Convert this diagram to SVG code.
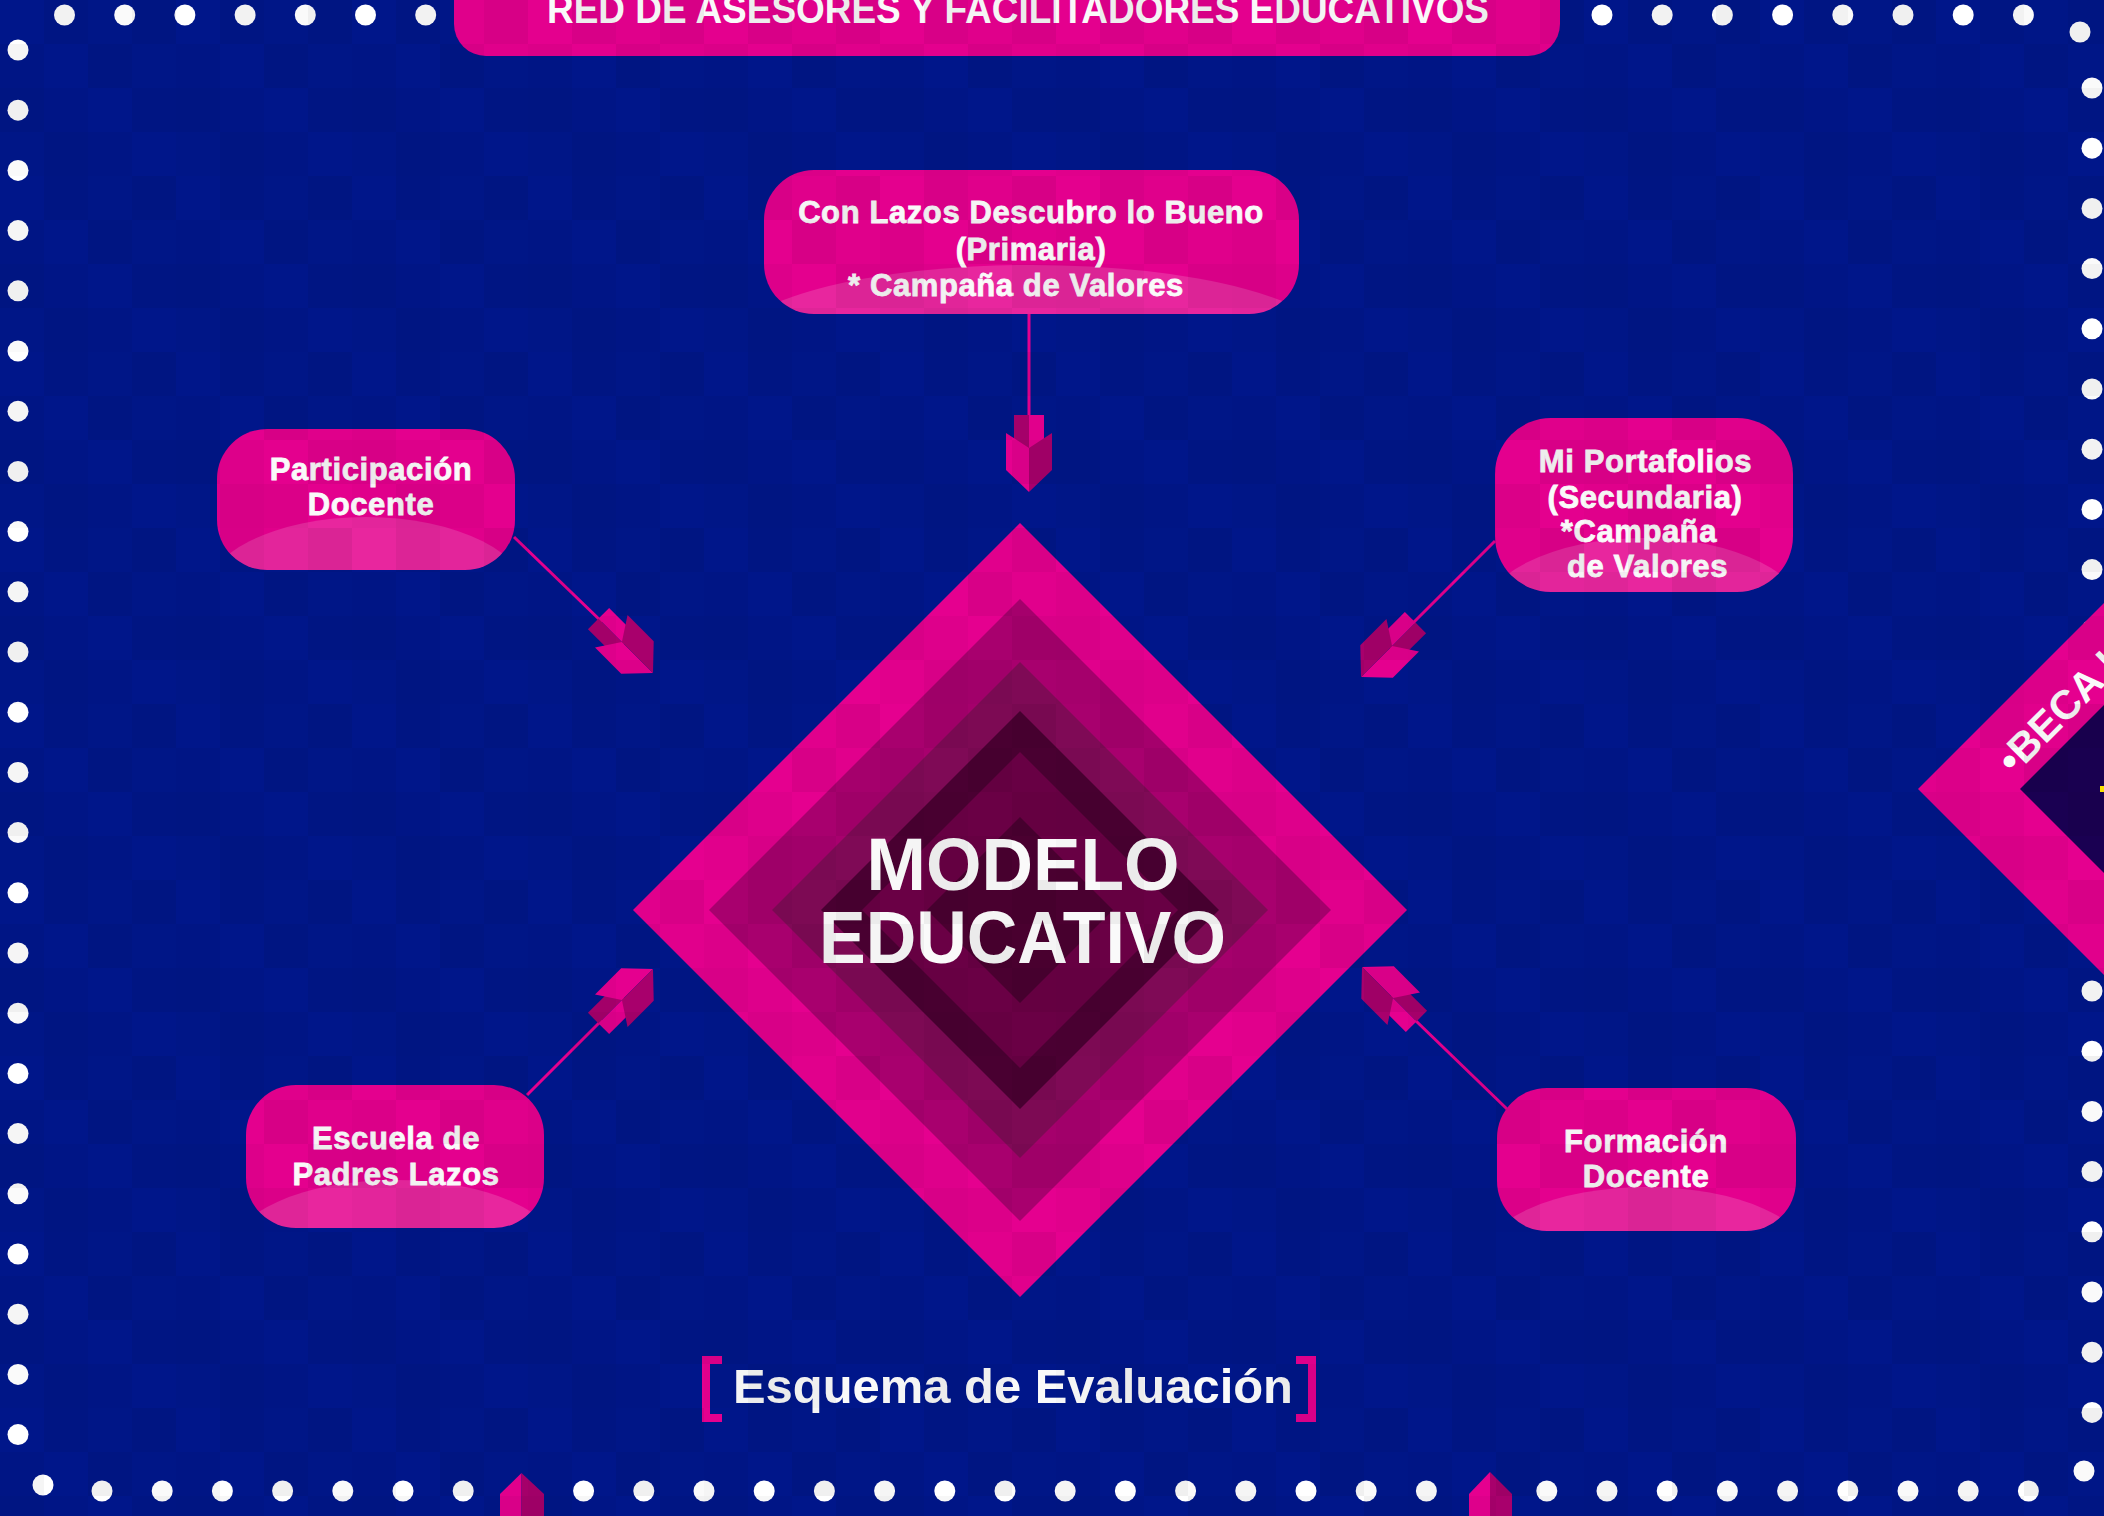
<svg xmlns="http://www.w3.org/2000/svg" width="2104" height="1516" viewBox="0 0 2104 1516">
<style>
.bg{fill:#00168A}
.d{fill:#FFFFFF}
.pill{fill:#E4008E}
.gloss{fill:#FFFFFF;fill-opacity:0.15}
.t{font-family:"Liberation Sans",Arial,Helvetica,sans-serif;font-weight:700;fill:#FAFAFA;text-anchor:middle}
.nt{font-size:31px;letter-spacing:0.6px;stroke:#FAFAFA;stroke-width:0.8px}
.link{stroke:#E5008F;stroke-width:3;fill:none}
.pk{fill:#E5008F}
.dk{fill:#A8006C}
</style>
<defs>
<pattern id="tex" width="176" height="176" patternUnits="userSpaceOnUse">
<rect x="44" y="0" width="44" height="44" fill="#000" fill-opacity="0.05"/>
<rect x="88" y="0" width="44" height="44" fill="#000" fill-opacity="0.02"/>
<rect x="132" y="0" width="44" height="44" fill="#000" fill-opacity="0.06"/>
<rect x="0" y="44" width="44" height="44" fill="#000" fill-opacity="0.04"/>
<rect x="88" y="44" width="44" height="44" fill="#000" fill-opacity="0.06"/>
<rect x="132" y="44" width="44" height="44" fill="#000" fill-opacity="0.02"/>
<rect x="0" y="88" width="44" height="44" fill="#000" fill-opacity="0.06"/>
<rect x="44" y="88" width="44" height="44" fill="#000" fill-opacity="0.03"/>
<rect x="132" y="88" width="44" height="44" fill="#000" fill-opacity="0.05"/>
<rect x="0" y="132" width="44" height="44" fill="#000" fill-opacity="0.02"/>
<rect x="44" y="132" width="44" height="44" fill="#000" fill-opacity="0.06"/>
<rect x="88" y="132" width="44" height="44" fill="#000" fill-opacity="0.04"/>
</pattern>
<g id="arr">
<rect x="-15" y="-77" width="15" height="36" class="dk"/>
<rect x="0" y="-77" width="15" height="36" class="pk"/>
<polygon points="-23,-59 0,-44 0,0 -23,-22" class="pk"/>
<polygon points="0,-44 23,-59 23,-22 0,0" class="dk"/>
</g>
<clipPath id="c1"><rect x="764" y="170" width="535" height="144" rx="50"/></clipPath>
<clipPath id="c2"><rect x="217" y="429" width="298" height="141" rx="50"/></clipPath>
<clipPath id="c3"><rect x="1495" y="418" width="298" height="174" rx="56"/></clipPath>
<clipPath id="c4"><rect x="246" y="1085" width="298" height="143" rx="50"/></clipPath>
<clipPath id="c5"><rect x="1497" y="1088" width="299" height="143" rx="50"/></clipPath>
</defs>

<rect class="bg" x="0" y="0" width="2104" height="1516"/>

<g id="border-dots">
<circle class="d" r="10.5" cx="64.5" cy="15"/><circle class="d" r="10.5" cx="124.7" cy="15"/><circle class="d" r="10.5" cx="184.9" cy="15"/><circle class="d" r="10.5" cx="245.1" cy="15"/><circle class="d" r="10.5" cx="305.3" cy="15"/><circle class="d" r="10.5" cx="365.5" cy="15"/><circle class="d" r="10.5" cx="425.7" cy="15"/>
<circle class="d" r="10.5" cx="1602" cy="15"/><circle class="d" r="10.5" cx="1662.2" cy="15"/><circle class="d" r="10.5" cx="1722.4" cy="15"/><circle class="d" r="10.5" cx="1782.6" cy="15"/><circle class="d" r="10.5" cx="1842.8" cy="15"/><circle class="d" r="10.5" cx="1903" cy="15"/><circle class="d" r="10.5" cx="1963.2" cy="15"/><circle class="d" r="10.5" cx="2023.4" cy="15"/>
<circle class="d" r="10.5" cx="2080" cy="32"/>
<circle class="d" r="10.5" cx="2092" cy="88"/><circle class="d" r="10.5" cx="2092" cy="148.2"/><circle class="d" r="10.5" cx="2092" cy="208.4"/><circle class="d" r="10.5" cx="2092" cy="268.6"/><circle class="d" r="10.5" cx="2092" cy="328.8"/><circle class="d" r="10.5" cx="2092" cy="389"/><circle class="d" r="10.5" cx="2092" cy="449.2"/><circle class="d" r="10.5" cx="2092" cy="509.4"/><circle class="d" r="10.5" cx="2092" cy="569.6"/><circle class="d" r="10.5" cx="2092" cy="629.8"/><circle class="d" r="10.5" cx="2092" cy="690"/><circle class="d" r="10.5" cx="2092" cy="750.2"/><circle class="d" r="10.5" cx="2092" cy="810.4"/><circle class="d" r="10.5" cx="2092" cy="870.6"/><circle class="d" r="10.5" cx="2092" cy="930.8"/><circle class="d" r="10.5" cx="2092" cy="991"/><circle class="d" r="10.5" cx="2092" cy="1051.2"/><circle class="d" r="10.5" cx="2092" cy="1111.4"/><circle class="d" r="10.5" cx="2092" cy="1171.6"/><circle class="d" r="10.5" cx="2092" cy="1231.8"/><circle class="d" r="10.5" cx="2092" cy="1292"/><circle class="d" r="10.5" cx="2092" cy="1352.2"/><circle class="d" r="10.5" cx="2092" cy="1412.4"/>
<circle class="d" r="10.5" cx="2084" cy="1471"/>
<circle class="d" r="10.5" cx="102" cy="1491"/><circle class="d" r="10.5" cx="162.2" cy="1491"/><circle class="d" r="10.5" cx="222.4" cy="1491"/><circle class="d" r="10.5" cx="282.6" cy="1491"/><circle class="d" r="10.5" cx="342.8" cy="1491"/><circle class="d" r="10.5" cx="403" cy="1491"/><circle class="d" r="10.5" cx="463.2" cy="1491"/><circle class="d" r="10.5" cx="583.6" cy="1491"/><circle class="d" r="10.5" cx="643.8" cy="1491"/><circle class="d" r="10.5" cx="704" cy="1491"/><circle class="d" r="10.5" cx="764.2" cy="1491"/><circle class="d" r="10.5" cx="824.4" cy="1491"/><circle class="d" r="10.5" cx="884.6" cy="1491"/><circle class="d" r="10.5" cx="944.8" cy="1491"/><circle class="d" r="10.5" cx="1005" cy="1491"/><circle class="d" r="10.5" cx="1065.2" cy="1491"/><circle class="d" r="10.5" cx="1125.4" cy="1491"/><circle class="d" r="10.5" cx="1185.6" cy="1491"/><circle class="d" r="10.5" cx="1245.8" cy="1491"/><circle class="d" r="10.5" cx="1306" cy="1491"/><circle class="d" r="10.5" cx="1366.2" cy="1491"/><circle class="d" r="10.5" cx="1426.4" cy="1491"/><circle class="d" r="10.5" cx="1546.8" cy="1491"/><circle class="d" r="10.5" cx="1607" cy="1491"/><circle class="d" r="10.5" cx="1667.2" cy="1491"/><circle class="d" r="10.5" cx="1727.4" cy="1491"/><circle class="d" r="10.5" cx="1787.6" cy="1491"/><circle class="d" r="10.5" cx="1847.8" cy="1491"/><circle class="d" r="10.5" cx="1908" cy="1491"/><circle class="d" r="10.5" cx="1968.2" cy="1491"/><circle class="d" r="10.5" cx="2028.4" cy="1491"/>
<circle class="d" r="10.5" cx="43" cy="1485"/>
<circle class="d" r="10.5" cx="18" cy="50"/><circle class="d" r="10.5" cx="18" cy="110.2"/><circle class="d" r="10.5" cx="18" cy="170.4"/><circle class="d" r="10.5" cx="18" cy="230.6"/><circle class="d" r="10.5" cx="18" cy="290.8"/><circle class="d" r="10.5" cx="18" cy="351"/><circle class="d" r="10.5" cx="18" cy="411.2"/><circle class="d" r="10.5" cx="18" cy="471.4"/><circle class="d" r="10.5" cx="18" cy="531.6"/><circle class="d" r="10.5" cx="18" cy="591.8"/><circle class="d" r="10.5" cx="18" cy="652"/><circle class="d" r="10.5" cx="18" cy="712.2"/><circle class="d" r="10.5" cx="18" cy="772.4"/><circle class="d" r="10.5" cx="18" cy="832.6"/><circle class="d" r="10.5" cx="18" cy="892.8"/><circle class="d" r="10.5" cx="18" cy="953"/><circle class="d" r="10.5" cx="18" cy="1013.2"/><circle class="d" r="10.5" cx="18" cy="1073.4"/><circle class="d" r="10.5" cx="18" cy="1133.6"/><circle class="d" r="10.5" cx="18" cy="1193.8"/><circle class="d" r="10.5" cx="18" cy="1254"/><circle class="d" r="10.5" cx="18" cy="1314.2"/><circle class="d" r="10.5" cx="18" cy="1374.4"/><circle class="d" r="10.5" cx="18" cy="1434.6"/>
</g>

<g id="bottom-arrows">
<polygon points="500,1516 500,1494 521.5,1473 521.5,1516" class="pk"/>
<polygon points="521.5,1473 544,1494 544,1516 521.5,1516" class="dk"/>
<polygon points="1469,1516 1469,1494 1490,1472 1490,1516" class="pk"/>
<polygon points="1490,1472 1512,1494 1512,1516 1490,1516" class="dk"/>
</g>

<g id="title">
<rect x="454" y="-40" width="1106" height="96" rx="32" class="pill"/>
<text class="t" x="1018" y="23" font-size="40" textLength="942" lengthAdjust="spacingAndGlyphs">RED DE ASESORES Y FACILITADORES EDUCATIVOS</text>
</g>

<g id="beca">
<polygon points="1918,789 2318,389 2718,789 2318,1189" class="pk"/>
<polygon points="2020,789 2400,409 2780,789 2400,1169" fill="#1A0052"/>
<rect x="2100" y="786" width="4" height="6" fill="#FFE600"/>
<text class="t" style="text-anchor:start" font-size="41" transform="translate(2014,776) rotate(-45)">•BECA I</text>
</g>

<g id="center-node">
<polygon points="1020,523 1407,910 1020,1297 633,910" fill="#E5008F"/>
<polygon points="1020,599 1331,910 1020,1221 709,910" fill="#A8006E"/>
<polygon points="1020,662 1268,910 1020,1158 772,910" fill="#7F0A56"/>
<polygon points="1020,711 1219,910 1020,1109 821,910" fill="#4A0032"/>
<polygon points="1020,752 1178,910 1020,1068 862,910" fill="#6A0045"/>
<polygon points="1020,817 1113,910 1020,1003 927,910" fill="#4A0030"/>
<text class="t" x="1023" y="890" font-size="75" textLength="313" lengthAdjust="spacingAndGlyphs">MODELO</text>
<text class="t" x="1022.5" y="963" font-size="75" textLength="407" lengthAdjust="spacingAndGlyphs">EDUCATIVO</text>
</g>

<g id="connectors">
<line class="link" x1="1029" y1="314" x2="1029" y2="420"/>
<line class="link" x1="514" y1="537" x2="602" y2="622"/>
<line class="link" x1="1495" y1="541" x2="1413" y2="623"/>
<line class="link" x1="527" y1="1095" x2="602" y2="1020"/>
<line class="link" x1="1507" y1="1109" x2="1415" y2="1020"/>
<use href="#arr" transform="translate(1029,492)"/>
<use href="#arr" transform="translate(653,673) rotate(-45)"/>
<use href="#arr" transform="translate(1361,677) rotate(45) scale(-1,1)"/>
<use href="#arr" transform="translate(653,969) rotate(-135) scale(-1,1)"/>
<use href="#arr" transform="translate(1362,967) rotate(135)"/>
</g>

<g id="n-conlazos">
<rect x="764" y="170" width="535" height="144" rx="50" class="pill"/>
<ellipse cx="1031.5" cy="345" rx="300" ry="80" class="gloss" clip-path="url(#c1)"/>
<text class="t nt" x="1031" y="223">Con Lazos Descubro lo Bueno</text>
<text class="t nt" x="1031" y="260">(Primaria)</text>
<text class="t nt" x="1016" y="296">* Campaña de Valores</text>
</g>

<g id="n-participacion">
<rect x="217" y="429" width="298" height="141" rx="50" class="pill"/>
<ellipse cx="366" cy="600" rx="165" ry="83" class="gloss" clip-path="url(#c2)"/>
<text class="t nt" x="371" y="480">Participación</text>
<text class="t nt" x="371" y="515">Docente</text>
</g>

<g id="n-portafolios">
<rect x="1495" y="418" width="298" height="174" rx="56" class="pill"/>
<ellipse cx="1644" cy="621" rx="165" ry="83" class="gloss" clip-path="url(#c3)"/>
<text class="t nt" x="1645.5" y="472">Mi Portafolios</text>
<text class="t nt" x="1645" y="508">(Secundaria)</text>
<text class="t nt" x="1639" y="542">*Campaña</text>
<text class="t nt" x="1647.5" y="577">de Valores</text>
</g>

<g id="n-escuela">
<rect x="246" y="1085" width="298" height="143" rx="50" class="pill"/>
<ellipse cx="395" cy="1253" rx="165" ry="73" class="gloss" clip-path="url(#c4)"/>
<text class="t nt" x="396" y="1149">Escuela de</text>
<text class="t nt" x="396" y="1185">Padres Lazos</text>
</g>

<g id="n-formacion">
<rect x="1497" y="1088" width="299" height="143" rx="50" class="pill"/>
<ellipse cx="1646.5" cy="1260" rx="165" ry="73" class="gloss" clip-path="url(#c5)"/>
<text class="t nt" x="1646" y="1152">Formación</text>
<text class="t nt" x="1646" y="1187">Docente</text>
</g>

<g id="caption">
<path d="M722,1360 H706 V1418 H722" fill="none" stroke="#E5008F" stroke-width="8"/>
<path d="M1296,1360 H1312 V1418 H1296" fill="none" stroke="#E5008F" stroke-width="8"/>
<text class="t" x="1013" y="1403" font-size="48" textLength="560" lengthAdjust="spacingAndGlyphs">Esquema de Evaluación</text>
</g>

<rect x="0" y="0" width="2104" height="1516" fill="url(#tex)"/>
</svg>
